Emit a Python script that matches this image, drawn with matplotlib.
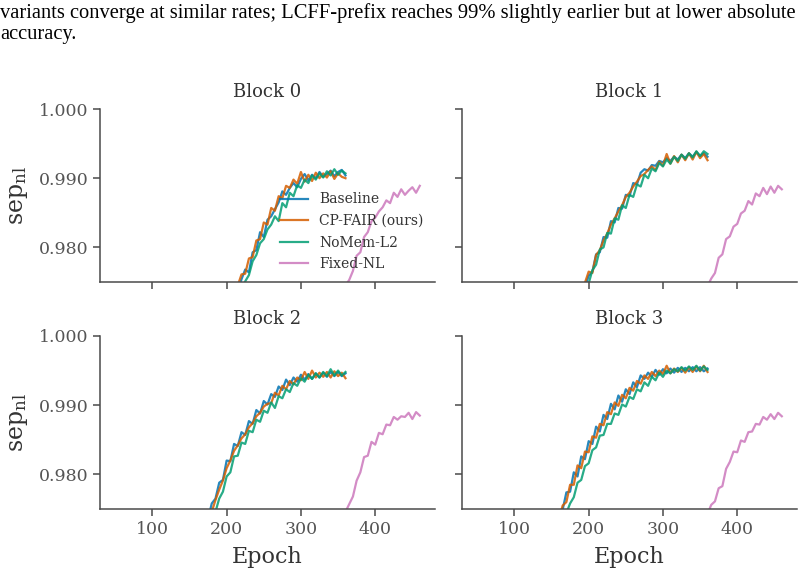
import numpy as np
import matplotlib
matplotlib.use("Agg")
import matplotlib.pyplot as plt
from matplotlib.ticker import FormatStrFormatter

plt.rcParams["font.family"] = ["DejaVu Serif"]
plt.rcParams["mathtext.fontset"] = "dejavuserif"

# --- data ---
method_names = ["Baseline", "CP-FAIR (ours)", "NoMem-L2", "Fixed-NL"]
method_colors = ["#0173B2", "#D55E00", "#029E73", "#CC78BC"]
block_titles = ["Block 0", "Block 1", "Block 2", "Block 3"]

# epochs of the three methods that stop at 360, and of Fixed-NL (stops at 460)
epochs_main = np.concatenate([[50, 100, 150], np.arange(160, 365, 5)])
epochs_fixed = np.concatenate([[50, 150, 250, 350], np.arange(355, 465, 5)])

# Block 0
b0_baseline = [0.880, 0.925, 0.955,
               0.9602, 0.9611, 0.9633, 0.9641, 0.9664, 0.9668, 0.9689, 0.9693, 0.9711, 0.9715,
               0.9733, 0.9736, 0.9754, 0.9768, 0.9764, 0.9793, 0.9796, 0.9822, 0.9815, 0.9840,
               0.9845, 0.9855, 0.9865, 0.9881, 0.9876, 0.9886, 0.9893, 0.9887, 0.9899, 0.9906,
               0.9897, 0.9905, 0.9900, 0.9909, 0.9902, 0.9906, 0.9911, 0.9903, 0.9909, 0.9912, 0.9904]
b0_cpfair = [0.882, 0.927, 0.957,
             0.9605, 0.9618, 0.9629, 0.9650, 0.9662, 0.9676, 0.9686, 0.9702, 0.9710, 0.9724,
             0.9731, 0.9745, 0.9761, 0.9762, 0.9784, 0.9786, 0.9810, 0.9812, 0.9836, 0.9833,
             0.9857, 0.9853, 0.9874, 0.9871, 0.9889, 0.9886, 0.9898, 0.9892, 0.9909, 0.9895,
             0.9905, 0.9896, 0.9908, 0.9900, 0.9907, 0.9901, 0.9910, 0.9899, 0.9907, 0.9902, 0.9900]
b0_nomem = [0.876, 0.921, 0.951,
            0.9590, 0.9603, 0.9617, 0.9631, 0.9645, 0.9656, 0.9670, 0.9681, 0.9694, 0.9704,
            0.9716, 0.9727, 0.9739, 0.9751, 0.9760, 0.9780, 0.9789, 0.9806, 0.9812, 0.9826,
            0.9833, 0.9845, 0.9838, 0.9864, 0.9858, 0.9879, 0.9874, 0.9890, 0.9886, 0.9898,
            0.9893, 0.9904, 0.9898, 0.9907, 0.9901, 0.9910, 0.9904, 0.9913, 0.9905, 0.9911, 0.9907]
b0_fixed = [0.850, 0.905, 0.945, 0.9725,
            0.9733, 0.9745, 0.9753, 0.9766, 0.9788, 0.9793, 0.9815, 0.9822, 0.9838, 0.9843, 0.9852,
            0.9858, 0.9868, 0.9864, 0.9879, 0.9873, 0.9884, 0.9876, 0.9882, 0.9887, 0.9879, 0.9889]

# Block 1
b1_baseline = [0.890, 0.935, 0.962,
               0.9667, 0.9676, 0.9693, 0.9700, 0.9716, 0.9722, 0.9738, 0.9743, 0.9759, 0.9765,
               0.9790, 0.9793, 0.9815, 0.9814, 0.9838, 0.9836, 0.9857, 0.9856, 0.9876, 0.9874,
               0.9893, 0.9891, 0.9908, 0.9913, 0.9911, 0.9919, 0.9918, 0.9925, 0.9923, 0.9929,
               0.9925, 0.9931, 0.9927, 0.9934, 0.9929, 0.9936, 0.9931, 0.9938, 0.9932, 0.9936, 0.9931]
b1_cpfair = [0.892, 0.937, 0.963,
             0.9663, 0.9681, 0.9688, 0.9705, 0.9711, 0.9727, 0.9733, 0.9749, 0.9765, 0.9763,
             0.9789, 0.9796, 0.9810, 0.9820, 0.9833, 0.9842, 0.9852, 0.9861, 0.9873, 0.9879,
             0.9888, 0.9895, 0.9903, 0.9906, 0.9912, 0.9917, 0.9912, 0.9924, 0.9918, 0.9935,
             0.9921, 0.9932, 0.9923, 0.9934, 0.9926, 0.9936, 0.9927, 0.9938, 0.9929, 0.9935, 0.9926]
b1_nomem = [0.888, 0.932, 0.960,
            0.9658, 0.9671, 0.9683, 0.9695, 0.9706, 0.9717, 0.9728, 0.9737, 0.9748, 0.9767,
            0.9775, 0.9797, 0.9800, 0.9821, 0.9820, 0.9842, 0.9840, 0.9861, 0.9857, 0.9876,
            0.9873, 0.9891, 0.9888, 0.9905, 0.9900, 0.9914, 0.9910, 0.9922, 0.9917, 0.9927,
            0.9921, 0.9931, 0.9925, 0.9934, 0.9928, 0.9936, 0.9930, 0.9939, 0.9932, 0.9939, 0.9935]
b1_fixed = [0.850, 0.905, 0.945, 0.9726,
            0.9734, 0.9744, 0.9755, 0.9763, 0.9785, 0.9790, 0.9812, 0.9816, 0.9830, 0.9834, 0.9849,
            0.9853, 0.9867, 0.9862, 0.9878, 0.9874, 0.9886, 0.9877, 0.9888, 0.9879, 0.9889, 0.9884]

# Block 2
b2_baseline = [0.900, 0.940, 0.966,
               0.9702, 0.9710, 0.9728, 0.9736, 0.9758, 0.9765, 0.9788, 0.9792, 0.9820, 0.9819,
               0.9844, 0.9841, 0.9861, 0.9857, 0.9877, 0.9873, 0.9893, 0.9888, 0.9906, 0.9901,
               0.9916, 0.9912, 0.9927, 0.9922, 0.9937, 0.9929, 0.9940, 0.9934, 0.9944, 0.9937,
               0.9945, 0.9938, 0.9946, 0.9940, 0.9947, 0.9941, 0.9948, 0.9942, 0.9948, 0.9942, 0.9946]
b2_cpfair = [0.898, 0.938, 0.964,
             0.9696, 0.9709, 0.9720, 0.9735, 0.9746, 0.9763, 0.9778, 0.9791, 0.9809, 0.9820,
             0.9834, 0.9842, 0.9852, 0.9858, 0.9868, 0.9874, 0.9884, 0.9889, 0.9898, 0.9902,
             0.9903, 0.9918, 0.9914, 0.9928, 0.9923, 0.9935, 0.9930, 0.9940, 0.9936, 0.9948,
             0.9938, 0.9950, 0.9940, 0.9947, 0.9941, 0.9948, 0.9940, 0.9949, 0.9942, 0.9947, 0.9939]
b2_nomem = [0.895, 0.935, 0.961,
            0.9680, 0.9693, 0.9705, 0.9718, 0.9731, 0.9746, 0.9765, 0.9775, 0.9797, 0.9803,
            0.9826, 0.9827, 0.9846, 0.9844, 0.9863, 0.9861, 0.9879, 0.9876, 0.9892, 0.9889,
            0.9904, 0.9896, 0.9913, 0.9910, 0.9923, 0.9919, 0.9932, 0.9928, 0.9939, 0.9934,
            0.9944, 0.9938, 0.9946, 0.9940, 0.9948, 0.9942, 0.9952, 0.9943, 0.9950, 0.9943, 0.9948]
b2_fixed = [0.850, 0.905, 0.945, 0.9722,
            0.9733, 0.9746, 0.9757, 0.9768, 0.9791, 0.9803, 0.9825, 0.9827, 0.9847, 0.9843, 0.9860,
            0.9858, 0.9872, 0.9871, 0.9883, 0.9879, 0.9884, 0.9883, 0.9889, 0.9880, 0.9890, 0.9885]

# Block 3
b3_baseline = [0.905, 0.945, 0.970,
               0.9741, 0.9749, 0.9774, 0.9775, 0.9803, 0.9797, 0.9826, 0.9822, 0.9848, 0.9844,
               0.9869, 0.9862, 0.9886, 0.9880, 0.9902, 0.9894, 0.9914, 0.9905, 0.9923, 0.9916,
               0.9933, 0.9926, 0.9943, 0.9938, 0.9947, 0.9941, 0.9951, 0.9944, 0.9952, 0.9946,
               0.9953, 0.9947, 0.9954, 0.9948, 0.9954, 0.9949, 0.9955, 0.9949, 0.9955, 0.9949, 0.9953]
b3_cpfair = [0.903, 0.943, 0.969,
             0.9736, 0.9755, 0.9760, 0.9785, 0.9785, 0.9813, 0.9809, 0.9833, 0.9832, 0.9855,
             0.9853, 0.9873, 0.9871, 0.9890, 0.9887, 0.9904, 0.9899, 0.9915, 0.9910, 0.9925,
             0.9921, 0.9935, 0.9931, 0.9943, 0.9938, 0.9948, 0.9942, 0.9950, 0.9945, 0.9957,
             0.9946, 0.9953, 0.9948, 0.9954, 0.9947, 0.9955, 0.9948, 0.9956, 0.9949, 0.9957, 0.9948]
b3_nomem = [0.900, 0.940, 0.966,
            0.9720, 0.9731, 0.9744, 0.9758, 0.9767, 0.9788, 0.9792, 0.9812, 0.9816, 0.9835,
            0.9839, 0.9856, 0.9857, 0.9873, 0.9873, 0.9888, 0.9886, 0.9901, 0.9898, 0.9912,
            0.9909, 0.9923, 0.9920, 0.9933, 0.9928, 0.9941, 0.9936, 0.9947, 0.9941, 0.9950,
            0.9946, 0.9952, 0.9949, 0.9955, 0.9950, 0.9956, 0.9951, 0.9957, 0.9950, 0.9956, 0.9951]
b3_fixed = [0.850, 0.905, 0.945, 0.9722,
            0.9732, 0.9743, 0.9756, 0.9761, 0.9780, 0.9783, 0.9808, 0.9818, 0.9833, 0.9832, 0.9849,
            0.9847, 0.9861, 0.9862, 0.9873, 0.9872, 0.9883, 0.9879, 0.9887, 0.9880, 0.9889, 0.9884]

blocks = [
    [b0_baseline, b0_cpfair, b0_nomem, b0_fixed],
    [b1_baseline, b1_cpfair, b1_nomem, b1_fixed],
    [b2_baseline, b2_cpfair, b2_nomem, b2_fixed],
    [b3_baseline, b3_cpfair, b3_nomem, b3_fixed],
]

text_col = "#333333"
tick_col = "#555555"
spine_col = "#4a4a4a"

fig = plt.figure(figsize=(8.05, 5.75), dpi=100)
axes = fig.subplots(2, 2, sharex=True, sharey=True)
fig.subplots_adjust(left=0.1242, right=0.9901, top=0.8104, bottom=0.1148,
                    wspace=0.0806, hspace=0.312)

# caption fragment from the paper page above the figure
fig.text(0.0, 1 - 13 / 575,
         "variants converge at similar rates; LCFF-prefix reaches 99% slightly earlier but at lower absolute",
         family=["Liberation Serif"], fontsize=14.8, color="black", va="center", ha="left")
fig.text(0.0, 1 - 35 / 575, "accuracy.",
         family=["Liberation Serif"], fontsize=14.8, color="black", va="center", ha="left")

for i, ax in enumerate(axes.flat):
    series = blocks[i]
    for j in range(4):
        xs = epochs_fixed if j == 3 else epochs_main
        ax.plot(xs, series[j], color=method_colors[j], lw=1.6, alpha=0.85,
                label=method_names[j])
    ax.set_title(block_titles[i], fontsize=13, color=text_col, pad=8.5)
    ax.set_ylim(0.975, 1.0)
    ax.set_yticks([0.98, 0.99, 1.0])
    ax.set_xticks([100, 200, 300, 400])
    ax.yaxis.set_major_formatter(FormatStrFormatter("%.3f"))
    for side in ["top", "right"]:
        ax.spines[side].set_visible(False)
    for side in ["left", "bottom"]:
        ax.spines[side].set_color(spine_col)
        ax.spines[side].set_linewidth(1.1)
    ax.tick_params(direction="out", length=5, width=1.1, color=spine_col,
                   labelcolor=tick_col, labelsize=12.5)

for ax in axes[:, 0]:
    ax.set_ylabel(r"$\mathrm{sep}_{\mathrm{nl}}$", fontsize=17, color=text_col, labelpad=6)
for ax in axes[1, :]:
    ax.set_xlabel("Epoch", fontsize=16, color=text_col, labelpad=6)

axes[0, 0].legend(loc="center left", bbox_to_anchor=(0.501, 0.29), frameon=False,
                  fontsize=10, labelcolor=text_col, handlelength=2.0, labelspacing=0.55)

fig.savefig("out.png", dpi=100)
